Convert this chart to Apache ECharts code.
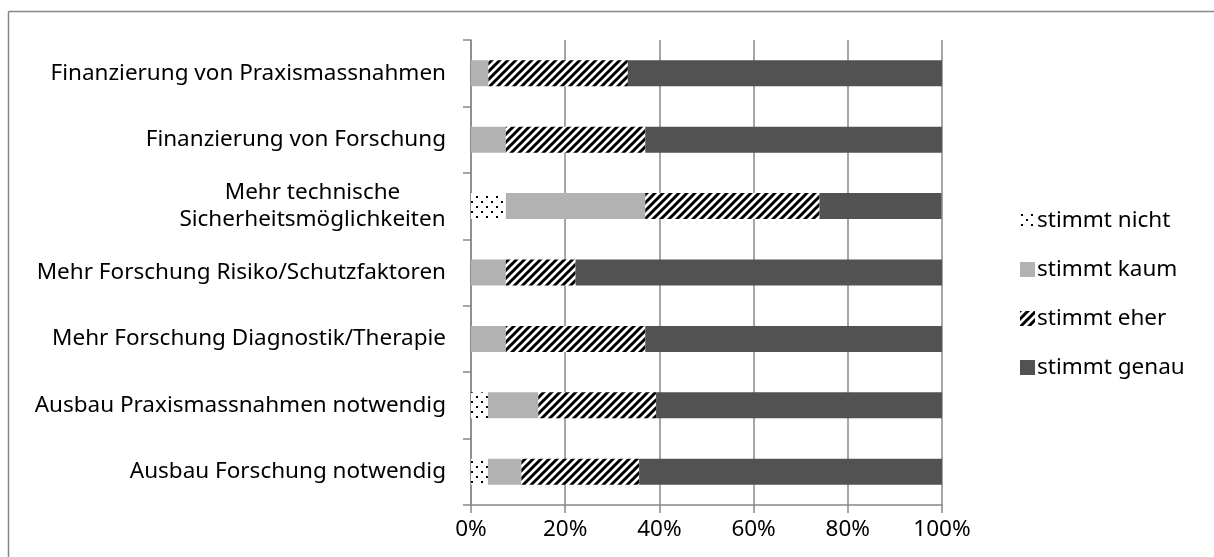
<!DOCTYPE html>
<html>
<head>
<meta charset="utf-8">
<script src="https://cdn.jsdelivr.net/npm/echarts@6/dist/echarts.min.js"></script>
<style>
  html, body { margin: 0; padding: 0; background: #fff; }
  #chart { width: 1214px; height: 557px; }
</style>
</head>
<body>
<div id="chart"></div>
<script>
// Kategorien (von oben nach unten)
var categories = [
    'Finanzierung von Praxismassnahmen',
    'Finanzierung von Forschung',
    'Mehr technische\nSicherheitsmöglichkeiten',
    'Mehr Forschung Risiko/Schutzfaktoren',
    'Mehr Forschung Diagnostik/Therapie',
    'Ausbau Praxismassnahmen notwendig',
    'Ausbau Forschung notwendig'
];
var seriesNames = ['stimmt nicht', 'stimmt kaum', 'stimmt eher', 'stimmt genau'];
// Anteile in %
var nicht = [0, 0, 7.4, 0, 0, 3.6, 3.6];
var kaum  = [3.7, 7.4, 29.6, 7.4, 7.4, 10.7, 7.1];
var eher  = [29.6, 29.6, 37.0, 14.8, 29.6, 25.0, 25.0];
var genau = [66.7, 63.0, 25.9, 77.8, 63.0, 60.7, 64.3];
var xTicks = [0, 20, 40, 60, 80, 100];

var FONT = 'Noto Sans';
var FS = 22.5;

// Muster: Punkte
function dotPattern() {
    var c = document.createElement('canvas');
    c.width = 10; c.height = 10;
    var ctx = c.getContext('2d');
    ctx.fillStyle = '#fff';
    ctx.fillRect(0, 0, 10, 10);
    ctx.fillStyle = '#000';
    ctx.fillRect(1, 1, 2, 2);
    ctx.fillRect(6, 6, 2, 2);
    return c;
}
// Muster: breite Diagonale
function hatchPattern() {
    var c = document.createElement('canvas');
    c.width = 8; c.height = 8;
    var ctx = c.getContext('2d');
    ctx.fillStyle = '#fff';
    ctx.fillRect(0, 0, 8, 8);
    ctx.strokeStyle = '#000';
    ctx.lineWidth = 3;
    ctx.beginPath();
    ctx.moveTo(-2, 10); ctx.lineTo(10, -2);
    ctx.moveTo(-6, 6); ctx.lineTo(6, -6);
    ctx.moveTo(2, 14); ctx.lineTo(14, 2);
    ctx.stroke();
    return c;
}

// Breite der längsten Zeile für zentrierte Mehrzeilen-Labels
function textWidth(s) {
    var ctx = document.createElement('canvas').getContext('2d');
    ctx.font = FS + 'px "' + FONT + '"';
    return Math.ceil(ctx.measureText(s).width);
}

var colors = [
    { image: dotPattern(), repeat: 'repeat' },
    '#b2b2b2',
    { image: hatchPattern(), repeat: 'repeat' },
    '#525252'
];
var values = [nicht, kaum, eher, genau];

var myChart = echarts.init(document.getElementById('chart'));

var series = seriesNames.map(function (name, i) {
    return {
        name: name,
        type: 'bar',
        stack: 'total',
        barWidth: 26,
        itemStyle: { color: colors[i] },
        emphasis: { disabled: true },
        data: values[i]
    };
});

var option = {
    animation: false,
    textStyle: { fontFamily: FONT },
    graphic: [
        { type: 'line', shape: { x1: 8.5, y1: 11.5, x2: 1214, y2: 11.5 }, style: { stroke: '#868686', lineWidth: 1.5 } },
        { type: 'line', shape: { x1: 8.5, y1: 11.5, x2: 8.5, y2: 557 }, style: { stroke: '#868686', lineWidth: 1.5 } }
    ],
    legend: {
        orient: 'vertical',
        left: 1015,
        top: 204,
        itemWidth: 15,
        itemHeight: 15,
        itemGap: 26,
        icon: 'rect',
        textStyle: { fontSize: FS, color: '#000', fontFamily: FONT, padding: [0, 0, 0, -3] },
        data: seriesNames
    },
    grid: { left: 471, right: 272, top: 40, bottom: 52 },
    xAxis: {
        type: 'value',
        min: 0,
        max: 100,
        interval: 20,
        axisLine: { show: true, lineStyle: { color: '#888', width: 1.5 } },
        axisTick: { show: true, length: 8, lineStyle: { color: '#888', width: 1.5 } },
        splitLine: { show: true, lineStyle: { color: '#888', width: 1.5 } },
        axisLabel: {
            margin: 13,
            fontSize: FS,
            color: '#000',
            formatter: function (v) { return xTicks.indexOf(v) >= 0 ? v + '%' : ''; }
        }
    },
    yAxis: {
        type: 'category',
        inverse: true,
        data: categories,
        axisLine: { show: true, lineStyle: { color: '#888', width: 1.5 } },
        axisTick: { show: true, length: 8, lineStyle: { color: '#888', width: 1.5 } },
        axisLabel: {
            margin: 25,
            fontSize: FS,
            color: '#000',
            lineHeight: 27,
            formatter: function (v) {
                if (v.indexOf('\n') >= 0) {
                    return v.split('\n').map(function (s) { return '{c|' + s + '}'; }).join('\n');
                }
                return v;
            },
            rich: {
                c: {
                    width: textWidth('Sicherheitsmöglichkeiten'),
                    align: 'center', fontSize: FS, color: '#000', lineHeight: 27
                }
            }
        }
    },
    series: series
};

myChart.setOption(option);
</script>
</body>
</html>
